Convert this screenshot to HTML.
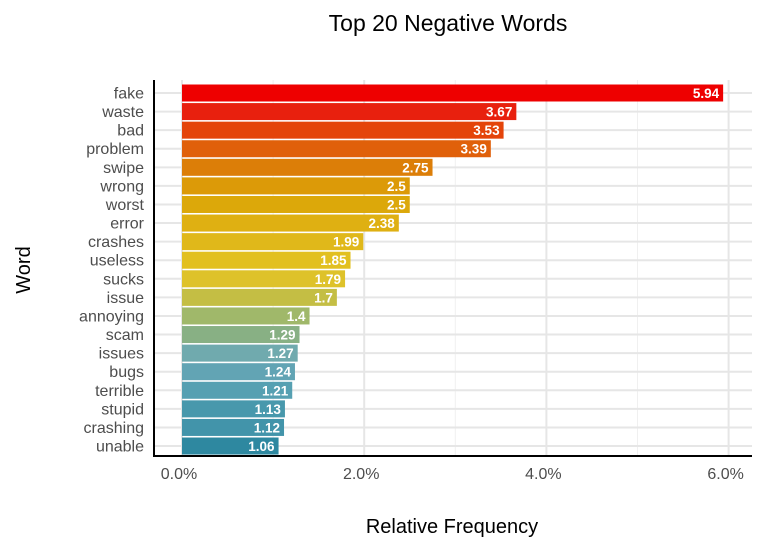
<!DOCTYPE html>
<html><head><meta charset="utf-8"><style>
body{margin:0;background:#fff;font-family:"Liberation Sans",sans-serif;}
</style></head><body>
<svg id="chart" width="763" height="551" xmlns="http://www.w3.org/2000/svg">
<text x="448" y="31" font-size="23" text-anchor="middle" fill="#000">Top 20 Negative Words</text>
<text x="452" y="533" font-size="20" text-anchor="middle" fill="#000">Relative Frequency</text>
<text x="30" y="270" font-size="20" text-anchor="middle" fill="#000" transform="rotate(-90 30 270)">Word</text>
<g id="grid"></g><g id="bars"></g><g id="axes"></g>
</svg>
<script>
const words=["fake","waste","bad","problem","swipe","wrong","worst","error","crashes","useless","sucks","issue","annoying","scam","issues","bugs","terrible","stupid","crashing","unable"];
const values=[5.94,3.67,3.53,3.39,2.75,2.5,2.5,2.38,1.99,1.85,1.79,1.7,1.4,1.29,1.27,1.24,1.21,1.13,1.12,1.06];
const valueLabels=["5.94","3.67","3.53","3.39","2.75","2.5","2.5","2.38","1.99","1.85","1.79","1.7","1.4","1.29","1.27","1.24","1.21","1.13","1.12","1.06"];
const ticks=[0,2,4,6];
const tickLabels=["0.0%","2.0%","4.0%","6.0%"];
const colors=["#EE0000","#E8200E","#E4440A","#E0600A","#DC7E08","#DC9A08","#DCA80A","#DFB012","#E0B81A","#E2C020","#DEC22A","#C4BE44","#A0B86A","#88B084","#70AAAE","#62A4B4","#56A0B2","#4898AC","#4294AA","#2E88A0"];
const NS="http://www.w3.org/2000/svg";
const x0=182,pxPer=91.1,yTop=93,step=18.58,bh=17,axisX=154,axisY=456;
const xs=v=>x0+v*pxPer, ys=i=>yTop+i*step;
function mk(t,a,p){const e=document.createElementNS(NS,t);for(const k in a)e.setAttribute(k,a[k]);p.appendChild(e);return e;}
const grid=document.getElementById('grid'),bars=document.getElementById('bars'),axes=document.getElementById('axes');
[1,3,5].forEach(v=>{const l=mk('line',{x1:xs(v),x2:xs(v),y1:80,y2:axisY,stroke:'#f0f0f0','stroke-width':1},grid);

});
ticks.forEach((v,i)=>{const l=mk('line',{x1:xs(v),x2:xs(v),y1:80,y2:axisY,stroke:'#e6e6e6','stroke-width':2},grid);


const t=mk('text',{x:xs(v)-3,y:479,'font-size':16,'text-anchor':'middle',fill:'#4d4d4d'},axes);t.textContent=tickLabels[i];

});
words.forEach((w,i)=>{const y=ys(i);
const g=mk('line',{x1:axisX,x2:752,y1:y,y2:y,stroke:'#e6e6e6','stroke-width':2},grid);


const r=mk('rect',{x:x0,y:y-bh/2,width:xs(values[i])-x0,height:bh,fill:colors[i]},bars);


const vt=mk('text',{x:xs(values[i])-4,y:y+5,'font-size':13.5,'font-weight':'bold','text-anchor':'end',fill:'#fff'},bars);vt.textContent=valueLabels[i];


const t=mk('text',{x:144,y:y+5.5,'font-size':16,'text-anchor':'end',fill:'#4d4d4d'},axes);t.textContent=w;

});
const ya=mk('line',{x1:axisX,x2:axisX,y1:80,y2:axisY+1,stroke:'#000','stroke-width':2},axes);


const xa=mk('line',{x1:axisX-1,x2:752,y1:axisY,y2:axisY,stroke:'#000','stroke-width':2},axes);


</script>
</body></html>
